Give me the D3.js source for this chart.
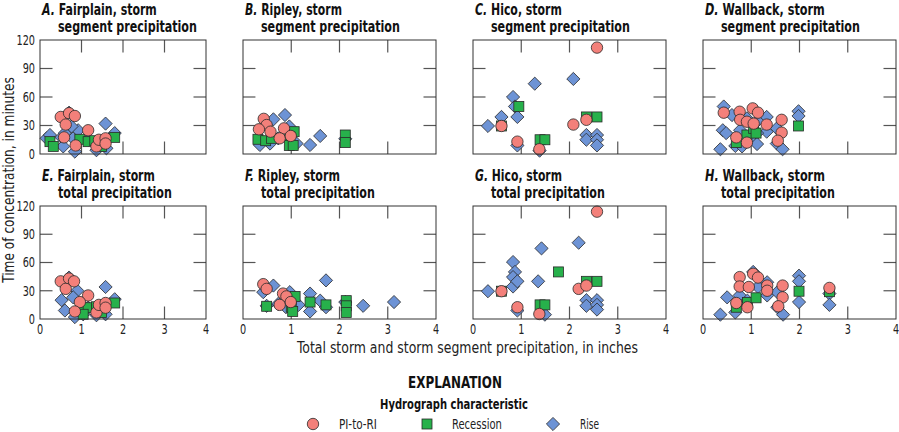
<!DOCTYPE html>
<html>
<head>
<meta charset="utf-8">
<script src="https://cdn.jsdelivr.net/npm/d3@7"></script>
<style>
  body { margin: 0; background: #fff; }
  text { font-family: "Liberation Sans Narrow", "DejaVu Sans Condensed", "Arial Narrow", sans-serif; }
</style>
</head>
<body>
<div class="chart"></div>
<script>
const xTicks = [0, 1, 2, 3, 4];
const yTicks = [0, 30, 60, 90, 120];
const seriesNames = ['PI-to-RI', 'Recession', 'Rise'];

// [precipitation (in), time of concentration (min)]
const aPi = [[0.50, 39], [0.70, 43], [0.84, 40], [0.62, 31], [1.16, 25], [0.58, 17.5], [0.86, 9], [1.36, 8], [1.42, 15], [1.58, 16.5], [1.58, 11]];
const aRec = [[0.24, 13], [0.32, 8], [0.96, 15.5], [1.16, 13], [1.32, 14], [1.48, 8], [1.80, 17.5]];
const aRise = [[0.70, 43.5], [0.16, 16.5], [0.24, 20], [0.52, 17.5], [0.60, 22], [0.56, 8], [0.80, 16.5], [0.92, 25], [0.84, 2.5], [0.76, 29], [1.58, 32], [1.80, 22], [1.36, 4], [1.60, 6], [1.16, 15]];

const bPi = [[0.43, 37], [0.49, 30.5], [0.33, 26], [0.57, 23.5], [0.85, 27], [0.76, 16.5], [0.99, 19]];
const bRec = [[0.31, 15.5], [0.47, 14], [0.59, 16.5], [1.06, 23.5], [0.97, 18], [0.96, 9], [1.04, 9], [2.12, 20], [2.12, 12]];
const bRise = [[0.63, 36.5], [0.87, 41], [0.96, 29], [0.35, 9.5], [0.56, 11], [0.73, 16.5], [1.11, 11], [1.39, 9.5], [1.60, 19], [2.12, 16]];

const cPi = [[2.57, 112], [0.59, 29.5], [0.92, 13], [1.375, 5], [2.08, 31], [2.35, 36]];
const cRec = [[0.59, 29.5], [0.95, 50], [1.39, 15], [1.49, 15], [2.35, 39], [2.57, 39]];
const cRise = [[0.31, 29.5], [0.59, 39], [0.83, 60], [0.87, 50], [0.92, 39], [1.28, 74], [2.08, 79], [0.92, 9], [1.38, 3.5], [2.35, 20], [2.35, 15], [2.57, 20], [2.57, 15], [2.57, 9]];

const dPi = [[0.43, 43.5], [0.76, 44.5], [1.03, 48], [1.14, 43.5], [0.77, 36], [0.91, 34], [1.05, 32], [1.32, 31], [1.63, 36], [1.63, 22.5], [1.55, 14], [0.69, 17.5], [0.91, 12]];
const dRec = [[0.69, 12], [0.91, 20], [1.05, 27], [1.10, 22], [1.98, 29.5]];
const dRise = [[0.43, 50], [0.60, 41], [0.41, 25], [0.48, 22], [0.36, 5], [0.67, 8.5], [0.77, 25], [0.91, 37.5], [1.15, 36], [1.32, 39], [1.32, 23.5], [1.53, 27], [1.12, 22], [0.98, 15], [1.12, 10.5], [1.53, 11], [1.65, 5], [1.98, 45], [1.98, 40], [0.81, 8]];

const ePi = [[0.50, 40], [0.70, 43], [0.82, 40], [0.62, 32], [1.16, 25], [0.96, 18], [0.84, 8], [1.36, 7], [1.42, 15], [1.58, 17], [1.58, 12]];
const eRec = [[1.00, 9], [1.16, 12], [1.36, 13], [1.80, 17], [1.48, 7], [1.04, 5]];
const eRise = [[0.70, 44], [0.52, 20], [0.60, 9], [0.84, 2], [0.90, 30], [0.80, 23], [1.58, 34], [1.80, 21], [1.58, 5], [1.36, 4], [1.16, 12], [1.04, 5]];

const fPi = [[0.42, 37], [0.49, 32], [0.83, 27], [0.90, 24], [0.76, 15], [0.99, 18]];
const fRec = [[0.49, 13.5], [1.08, 24], [1.00, 12.5], [1.03, 8], [1.39, 18], [1.72, 15], [2.14, 19.5], [2.14, 14], [2.14, 7]];
const fRise = [[0.42, 28.5], [0.63, 35.5], [1.72, 41], [0.97, 28.5], [0.73, 16], [0.89, 12.5], [1.15, 15], [1.39, 27], [1.39, 8], [1.60, 19.5], [1.72, 12.5], [2.12, 18], [2.49, 14], [3.13, 18], [0.49, 14]];

const gPi = [[2.57, 114], [0.59, 29.5], [0.92, 12.5], [1.375, 5.3], [2.19, 32], [2.35, 35.5]];
const gRec = [[0.59, 29.5], [1.77, 50], [1.39, 15], [1.49, 15], [2.35, 40], [2.57, 40]];
const gRise = [[0.31, 29.5], [0.83, 60.5], [0.87, 50], [0.83, 44.5], [0.83, 34.5], [0.92, 40], [1.42, 75], [2.19, 81], [1.35, 40], [0.92, 9], [1.49, 4.6], [2.35, 20], [2.35, 14], [2.57, 20], [2.57, 15], [2.57, 10]];

const hPi = [[0.76, 44.5], [1.04, 48], [1.14, 44], [0.76, 34.5], [0.95, 34], [1.33, 35.5], [1.33, 30], [1.65, 35.5], [1.65, 23], [1.56, 13.5], [0.69, 17], [0.92, 12.5], [2.62, 33]];
const hRec = [[0.69, 12.5], [0.92, 17.5], [1.10, 22.5], [1.99, 29.5], [2.62, 29]];
const hRise = [[0.50, 23], [0.36, 4.6], [0.76, 25], [0.67, 7], [1.04, 50], [1.14, 34], [1.33, 39], [1.33, 25], [1.54, 28.5], [1.54, 12.5], [1.66, 4.6], [0.92, 19.5], [1.99, 46], [1.99, 40], [1.99, 18], [2.62, 27], [2.62, 15]];

const panels = [
    { letter: 'A.', site: 'Fairplain, storm', sub: 'segment precipitation', pi: aPi, rec: aRec, rise: aRise },
    { letter: 'B.', site: 'Ripley, storm', sub: 'segment precipitation', pi: bPi, rec: bRec, rise: bRise },
    { letter: 'C.', site: 'Hico, storm', sub: 'segment precipitation', pi: cPi, rec: cRec, rise: cRise },
    { letter: 'D.', site: 'Wallback, storm', sub: 'segment precipitation', pi: dPi, rec: dRec, rise: dRise },
    { letter: 'E.', site: 'Fairplain, storm', sub: 'total precipitation', pi: ePi, rec: eRec, rise: eRise },
    { letter: 'F.', site: 'Ripley, storm', sub: 'total precipitation', pi: fPi, rec: fRec, rise: fRise },
    { letter: 'G.', site: 'Hico, storm', sub: 'total precipitation', pi: gPi, rec: gRec, rise: gRise },
    { letter: 'H.', site: 'Wallback, storm', sub: 'total precipitation', pi: hPi, rec: hRec, rise: hRise }
];

const colors = { pi: '#f3807a', rec: '#27b14b', rise: '#6d93d5' };
const edge = '#2a2a2a';

const width = 899;
const height = 432;
const colLeft = [40, 243, 473, 703];
const colRight = [206, 436, 666, 896];
const rowTop = [40, 206];
const rowBottom = [154, 319];
const tickLen = 12.5;
// widths the condensed reference font gives these strings
const line1Width = [115, 97, 87, 120, 113, 95, 87, 120];
const line2Width = { 'segment precipitation': 139, 'total precipitation': 114 };

const svg = d3.select('.chart')
    .append('svg')
    .attr('width', width)
    .attr('height', height);

// the fonts here are wider than the original condensed face, so
// squeeze each label horizontally to a target width (or by a factor)
function label(parent, x, y, str, opt) {
    const g = parent.append('g');
    const t = g.append('text')
        .attr('text-anchor', opt.anchor || 'start')
        .style('font-size', opt.size + 'px')
        .style('font-weight', opt.weight || 'normal')
        .attr('fill', opt.fill || '#222');
    if (opt.letter) {
        t.append('tspan').style('font-style', 'italic').text(opt.letter);
        t.append('tspan').text(' ' + str);
    } else {
        t.text(str);
    }
    const w = t.node().getComputedTextLength();
    const s = opt.width ? opt.width / w : (opt.squeeze || 1);
    const rot = opt.rotate ? ` rotate(${opt.rotate})` : '';
    g.attr('transform', `translate(${x},${y})${rot} scale(${s},1)`);
    return g;
}

const diamond = r => `M0,${-r}L${r},0L0,${r}L${-r},0Z`;

function drawMarkers(g, pts, type, x, y) {
    if (type === 'rise') {
        g.selectAll('path.rise')
            .data(pts)
            .enter()
            .append('path')
            .attr('class', 'rise')
            .attr('d', diamond(6.6))
            .attr('transform', d => `translate(${x(d[0])},${y(d[1])})`)
            .attr('fill', colors.rise)
            .attr('stroke', edge)
            .attr('stroke-width', 0.8);
    } else if (type === 'rec') {
        g.selectAll('rect.rec')
            .data(pts)
            .enter()
            .append('rect')
            .attr('class', 'rec')
            .attr('x', d => x(d[0]) - 5)
            .attr('y', d => y(d[1]) - 5)
            .attr('width', 10)
            .attr('height', 10)
            .attr('fill', colors.rec)
            .attr('stroke', edge)
            .attr('stroke-width', 0.8);
    } else {
        g.selectAll('circle.pi')
            .data(pts)
            .enter()
            .append('circle')
            .attr('class', 'pi')
            .attr('cx', d => x(d[0]))
            .attr('cy', d => y(d[1]))
            .attr('r', 5.7)
            .attr('fill', colors.pi)
            .attr('stroke', edge)
            .attr('stroke-width', 0.8);
    }
}

panels.forEach((p, i) => {
    const col = i % 4;
    const row = Math.floor(i / 4);
    const x = d3.scaleLinear().domain([0, 4]).range([colLeft[col], colRight[col]]);
    const y = d3.scaleLinear().domain([0, 120]).range([rowBottom[row], rowTop[row]]);
    const g = svg.append('g');

    label(g, x(0) + 2, rowTop[row] - 25.5, p.site,
        { letter: p.letter, size: 15, weight: 'bold', fill: '#111', width: line1Width[i] });
    label(g, x(0) + 18, rowTop[row] - 8.5, p.sub,
        { size: 15, weight: 'bold', fill: '#111', width: line2Width[p.sub] });

    // inward ticks on all four sides
    const inner = g.append('g')
        .attr('stroke', '#555')
        .attr('stroke-width', 1.2);
    xTicks.slice(1, -1).forEach(v => {
        inner.append('line').attr('x1', x(v)).attr('x2', x(v))
            .attr('y1', y(0)).attr('y2', y(0) - tickLen);
        inner.append('line').attr('x1', x(v)).attr('x2', x(v))
            .attr('y1', y(120)).attr('y2', y(120) + tickLen);
    });
    yTicks.slice(1, -1).forEach(v => {
        inner.append('line').attr('x1', x(0)).attr('x2', x(0) + tickLen)
            .attr('y1', y(v)).attr('y2', y(v));
        inner.append('line').attr('x1', x(4)).attr('x2', x(4) - tickLen)
            .attr('y1', y(v)).attr('y2', y(v));
    });

    drawMarkers(g, p.rise, 'rise', x, y);
    drawMarkers(g, p.rec, 'rec', x, y);
    drawMarkers(g, p.pi, 'pi', x, y);

    g.append('rect')
        .attr('x', x(0))
        .attr('y', y(120))
        .attr('width', x(4) - x(0))
        .attr('height', y(0) - y(120))
        .attr('fill', 'none')
        .attr('stroke', '#333')
        .attr('stroke-width', 1);

    if (col === 0) {
        yTicks.forEach(d => label(g, x(0) - 5, y(d) + 4.8, d,
            { size: 13.5, anchor: 'end', squeeze: 0.8 }));
    }
    if (row === 1) {
        xTicks.forEach(d => label(g, x(d), y(0) + 14.5, d,
            { size: 13.5, anchor: 'middle', squeeze: 0.8 }));
    }
});

label(svg, 14, 180, 'Time of concentration, in minutes',
    { size: 15, anchor: 'middle', rotate: -90, width: 206 });

label(svg, 467.5, 353, 'Total storm and storm segment precipitation, in inches',
    { size: 15, anchor: 'middle', width: 341 });

// explanation
label(svg, 455, 388, 'EXPLANATION',
    { size: 16, weight: 'bold', fill: '#111', anchor: 'middle', width: 94 });
label(svg, 454, 409, 'Hydrograph characteristic',
    { size: 13.5, weight: 'bold', fill: '#111', anchor: 'middle', width: 148 });

const legendKeys = ['pi', 'rec', 'rise'];
const legendMarkX = [313, 427, 553];
const legendTextX = [339, 452, 580];
const legendTextW = [38, 50, 19];
const ly = 424;

legendKeys.forEach((k, i) => {
    const mx = legendMarkX[i];
    if (k === 'pi') {
        svg.append('circle').attr('cx', mx).attr('cy', ly).attr('r', 5.7)
            .attr('fill', colors.pi).attr('stroke', edge).attr('stroke-width', 0.8);
    } else if (k === 'rec') {
        svg.append('rect').attr('x', mx - 5).attr('y', ly - 5).attr('width', 10).attr('height', 10)
            .attr('fill', colors.rec).attr('stroke', edge).attr('stroke-width', 0.8);
    } else {
        svg.append('path').attr('d', diamond(6.6)).attr('transform', `translate(${mx},${ly})`)
            .attr('fill', colors.rise).attr('stroke', edge).attr('stroke-width', 0.8);
    }
    label(svg, legendTextX[i], ly + 4.8, seriesNames[i], { size: 13.5, width: legendTextW[i] });
});
</script>
</body>
</html>
